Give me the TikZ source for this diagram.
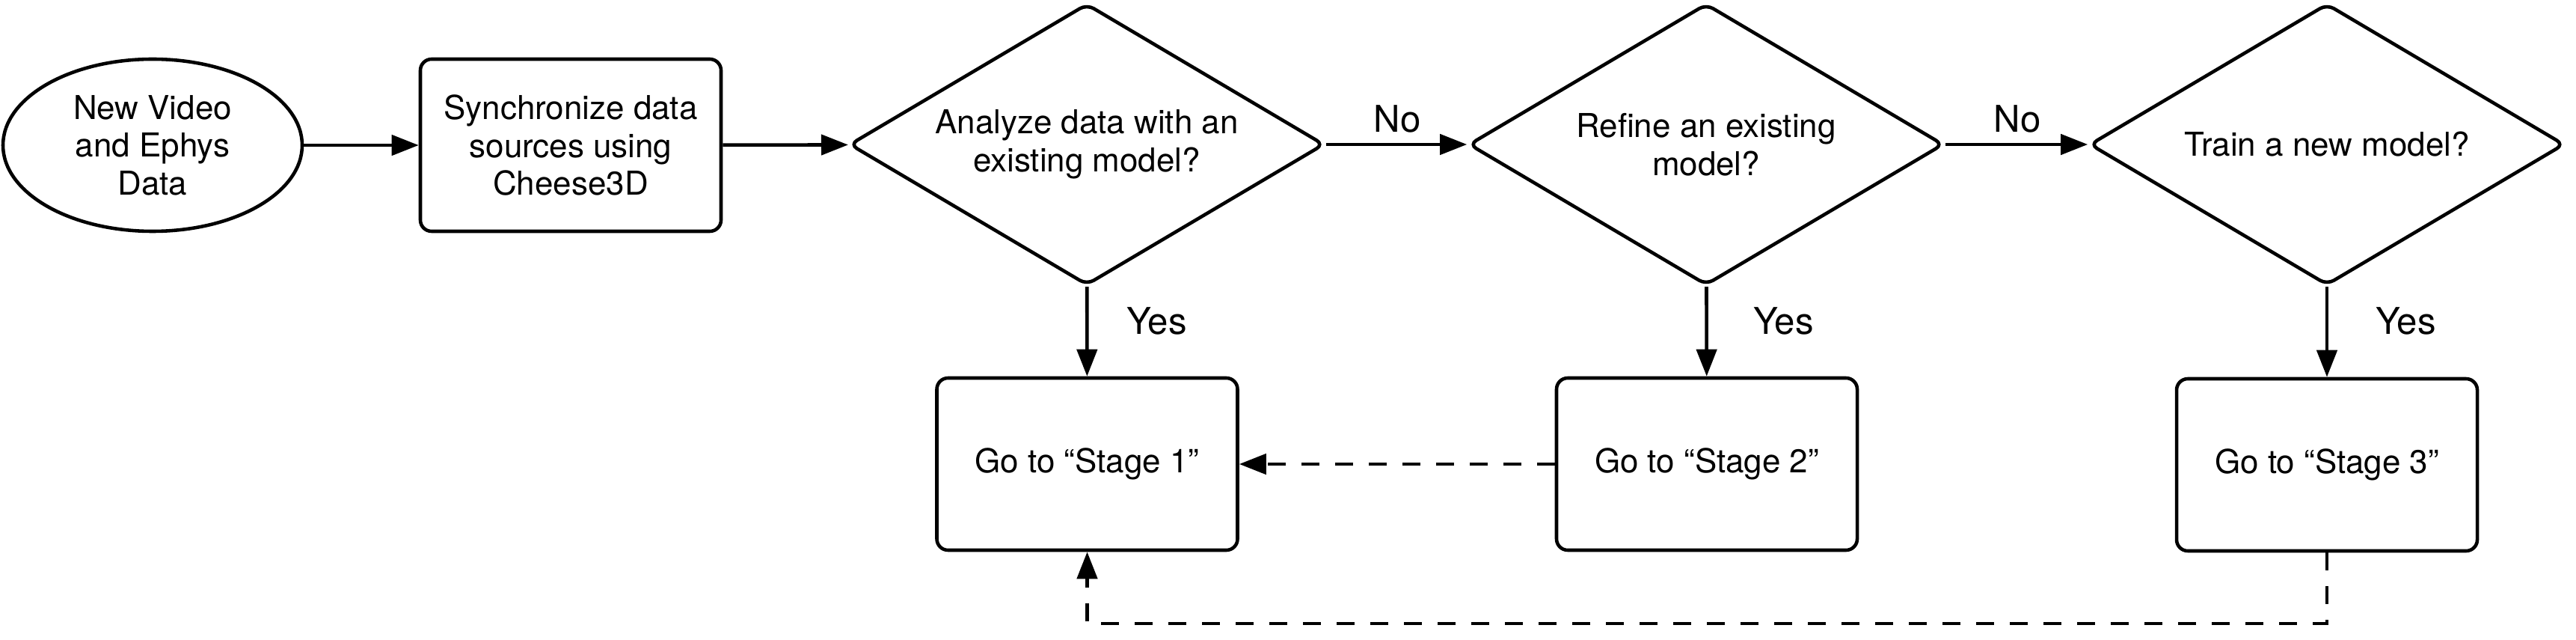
\documentclass[tikz,border=0pt]{standalone}
\usepackage{fontspec}
\setmainfont{TeX Gyre Heros}
\usetikzlibrary{shapes.geometric,arrows.meta}
\begin{document}
\begin{tikzpicture}[
  line width=1.3pt,
  every node/.style={font=\fontsize{12.5pt}{14.4pt}\selectfont, align=center},
  startnode/.style={draw, ellipse, minimum width=4.0cm, minimum height=2.3cm, inner sep=0pt},
  procbox/.style={draw, rectangle, rounded corners=0.15cm, minimum width=4.02cm, minimum height=2.3cm, inner sep=0pt},
  decision/.style={draw, diamond, aspect=1.68, rounded corners=3pt, minimum width=6.35cm, minimum height=3.76cm, inner sep=0pt},
  flow/.style={-{Triangle[length=0.36cm,width=0.27cm]}},
  dflow/.style={flow, dash pattern=on 0.24cm off 0.21cm},
  lbl/.style={font=\fontsize{14pt}{16pt}\selectfont, inner sep=0pt, anchor=base}
]
\useasboundingbox (0,0) rectangle (34.44,-8.55);

\node[startnode] (ell) at (2.04,-1.94) {New Video\\and Ephys\\Data};
\node[procbox] (sync) at (7.63,-1.94) {Synchronize data\\sources using\\Cheese3D};
\node[decision] (d1) at (14.53,-1.93) {Analyze data with an\\existing model?};
\node[decision] (d2) at (22.81,-1.93) {Refine an existing\\model?};
\node[decision] (d3) at (31.11,-1.93) {Train a new model?};
\node[procbox] (s1) at (14.535,-6.20) {Go to \textquotedblleft Stage 1\textquotedblright};
\node[procbox] (s2) at (22.82,-6.20) {Go to \textquotedblleft Stage 2\textquotedblright};
\node[procbox] (s3) at (31.11,-6.21) {Go to \textquotedblleft Stage 3\textquotedblright};

\node[lbl] (no1) at (18.68,-1.77) {No};
\node[lbl] (no2) at (26.97,-1.77) {No};
\node[lbl, anchor=base west] (yes1) at (15.04,-4.47) {Yes};
\node[lbl, anchor=base west] (yes2) at (23.42,-4.47) {Yes};
\node[lbl, anchor=base west] (yes3) at (31.74,-4.47) {Yes};

\draw[flow] (ell) -- (sync);
\draw[flow] (sync) -- (d1);
\draw[flow] (d1) -- (d2);
\draw[flow] (d2) -- (d3);
\draw[flow] (d1) -- (s1);
\draw[flow] (d2) -- (s2);
\draw[flow] (d3) -- (s3);

\draw[dflow] (s2) -- (s1);
\coordinate (c3) at (31.11,-8.33);
\coordinate (c1) at (14.535,-8.33);
\draw[dflow] (s3.south) -- (c3) -- (c1) -- (s1.south);
\end{tikzpicture}
\end{document}
